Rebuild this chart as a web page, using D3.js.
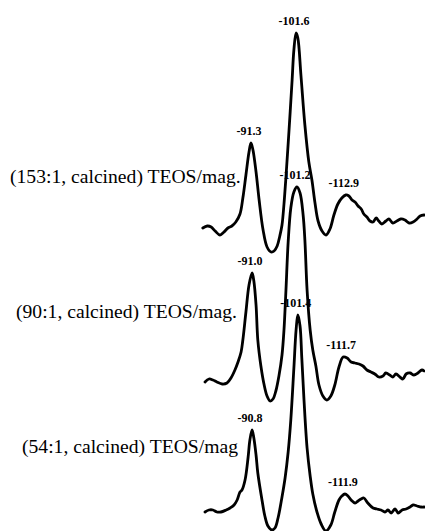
<!DOCTYPE html>
<html><head><meta charset="utf-8">
<script src="https://cdn.jsdelivr.net/npm/d3@7/dist/d3.min.js"></script>
<style>
html,body{margin:0;padding:0;background:#fff;}
svg{display:block;}
</style></head>
<body>
<svg id="chart" width="425" height="531"></svg>
<script>
// ---- DATA (29Si NMR spectra, chemical shift in ppm vs. intensity, a.u.) ----
const sampleNames = ["(153:1, calcined) TEOS/mag.", "(90:1, calcined) TEOS/mag.", "(54:1, calcined) TEOS/mag"];
const traceOffsets = [141, 65, 0];

const spectrum153 = [
  [-80.3,0],[-81.3,1],[-82.2,0.5],[-83.1,-1.5],[-84.2,-3.5],[-85.1,-2],[-86.0,0],[-86.9,1],[-87.8,3],
  [-88.75,7],[-89.4,15],[-90.1,26.5],[-90.8,38],[-91.25,42.5],[-91.7,39],[-92.4,28],[-93.1,14],[-94.0,-1],
  [-94.9,-9.5],[-95.8,-12],[-96.5,-11.5],[-97.2,-9],[-97.8,-4],[-98.3,1.5],[-98.75,12],[-99.2,25.5],
  [-99.9,49],[-100.6,74],[-101.0,89],[-101.5,97.5],[-101.9,95],[-102.6,76.5],[-103.5,51.5],[-104.4,33],
  [-105.1,24],[-105.8,12.5],[-106.5,3.5],[-107.4,-1.5],[-108.3,-3.5],[-109.2,-0.5],[-110.1,6.5],[-111.0,12],
  [-111.9,15],[-112.8,16.5],[-113.5,16],[-114.2,14],[-114.9,13],[-115.6,11],[-116.3,9.5],[-116.9,7],
  [-117.6,5.5],[-118.3,3.5],[-119.0,3],[-119.7,5],[-120.3,3.5],[-121.0,2],[-121.9,3.5],[-122.6,4.5],
  [-123.5,2.5],[-124.4,3.5],[-125.3,4.5],[-126.25,4],[-127.2,2.5],[-128.1,3],[-129.0,4.5],[-129.7,6],[-130.6,6.5]
];
const spectrum90 = [
  [-80.8,-1],[-81.7,0.5],[-82.6,0],[-83.5,-1],[-84.7,-2],[-85.8,-1.5],[-86.7,1],[-87.6,5],[-88.3,9],
  [-89.0,14],[-89.4,20],[-90.1,34],[-90.8,47.5],[-91.5,53.5],[-91.9,49.5],[-92.4,37.5],[-92.8,20],[-93.5,7],
  [-94.2,-2],[-94.9,-8],[-95.6,-10.5],[-96.25,-9.5],[-96.9,-5.5],[-97.6,2],[-98.3,12.5],[-98.75,25],
  [-99.2,45],[-99.7,69],[-100.3,86],[-101.0,94],[-101.7,96.5],[-102.4,93.5],[-103.1,82.5],[-103.5,70],
  [-104.0,45],[-104.7,25],[-105.3,15],[-106.0,7],[-106.7,-2.5],[-107.6,-8],[-108.5,-10],[-109.4,-8],
  [-110.3,-2.5],[-111.25,6.5],[-112.2,11.5],[-113.1,11],[-114.0,9],[-114.9,8.5],[-115.8,8],[-116.7,7],
  [-117.6,5],[-118.5,4],[-119.4,3],[-120.3,1.5],[-121.25,2],[-121.9,3.5],[-122.8,2.5],[-123.5,1.5],
  [-124.2,3],[-125.1,1.5],[-125.8,0.5],[-126.5,3],[-127.4,3.5],[-128.3,2.5],[-129.2,3.5],[-130.1,5],[-130.6,4.5]
];
const spectrum54 = [
  [-80.8,-1],[-81.7,0],[-82.6,0],[-83.5,-1],[-84.4,-1],[-85.6,0],[-86.5,1],[-87.4,2.5],[-88.1,5],
  [-88.75,9],[-89.2,10],[-89.9,15],[-90.6,26.5],[-91.0,35],[-91.5,40],[-91.9,36],[-92.4,27.5],[-92.8,18.5],
  [-93.75,5],[-94.4,-3],[-95.1,-8],[-96.0,-10],[-96.7,-9],[-97.4,-4],[-98.3,6.5],[-99.0,16],[-99.7,29],
  [-100.3,45],[-101.0,71],[-101.5,90],[-101.9,97.5],[-102.4,92],[-102.8,76],[-103.3,55],[-104.0,31],
  [-104.7,17],[-105.3,8],[-106.25,-1],[-107.2,-7],[-108.3,-10.5],[-109.4,-7.5],[-110.3,-1],[-111.25,5],
  [-111.9,7],[-112.6,8],[-113.3,7],[-114.0,5],[-114.9,3.5],[-115.6,4.5],[-116.25,5.5],[-116.9,6],
  [-117.8,3.5],[-119.0,1],[-119.9,0.5],[-120.8,0],[-121.7,-1],[-122.4,0],[-123.1,-1.5],[-124.0,0.5],
  [-124.7,-1.5],[-125.6,0],[-126.5,0.5],[-127.4,1.5],[-128.1,2.5],[-129.0,2],[-129.9,1.5],[-130.6,1.5]
];
const spectra = [spectrum153, spectrum90, spectrum54];

// peak labels: [text, ppm of the peak they mark]
const peaks153 = [["-91.3",-91.25],["-101.6",-101.5],["-112.9",-112.8]];
const peaks90  = [["-91.0",-91.5],["-101.2",-101.7],["-111.7",-112.2]];
const peaks54  = [["-90.8",-91.5],["-101.4",-101.9],["-111.9",-112.6]];
const peakLabels = [peaks153, peaks90, peaks54];

// ---- CHART ----
const svg = d3.select("#chart");
const x = d3.scaleLinear().domain([-80, -130.6]).range([201.5, 424.1]);
const y = d3.scaleLinear().domain([0, 250]).range([510, 10]);

const line = d3.line()
  .x(d => x(d[0]))
  .y(d => y(d[1]))
  .curve(d3.curveCatmullRom.alpha(0.5));

const serif = "'Liberation Serif','Times New Roman',Times,serif";
const labelX = [10, 16, 22];
const labelDy = [-45, -62, -57];
const stretch = 1.09;

spectra.forEach((s, i) => {
  const off = traceOffsets[i];
  svg.append("path")
    .datum(s.map(d => [d[0], d[1] + off]))
    .attr("d", line)
    .attr("fill", "none")
    .attr("stroke", "#000")
    .attr("stroke-width", 2.8)
    .attr("stroke-linejoin", "round")
    .attr("stroke-linecap", "round");

  const t = svg.append("text")
    .attr("x", labelX[i])
    .attr("y", y(off) + labelDy[i])
    .attr("font-family", serif)
    .attr("font-size", 18)
    .attr("fill", "#000")
    .text(sampleNames[i]);
  const w = t.node().getComputedTextLength();
  t.attr("textLength", w * stretch).attr("lengthAdjust", "spacingAndGlyphs");

  peakLabels[i].forEach(([txt, ppm]) => {
    const pt = s.reduce((a, b) => Math.abs(b[0] - ppm) < Math.abs(a[0] - ppm) ? b : a);
    svg.append("text")
      .attr("x", x(pt[0]) - 2)
      .attr("y", y(pt[1] + off) - 8)
      .attr("text-anchor", "middle")
      .attr("font-family", serif)
      .attr("font-weight", "bold")
      .attr("font-size", 12)
      .attr("fill", "#000")
      .text(txt);
  });
});
</script>
</body></html>
